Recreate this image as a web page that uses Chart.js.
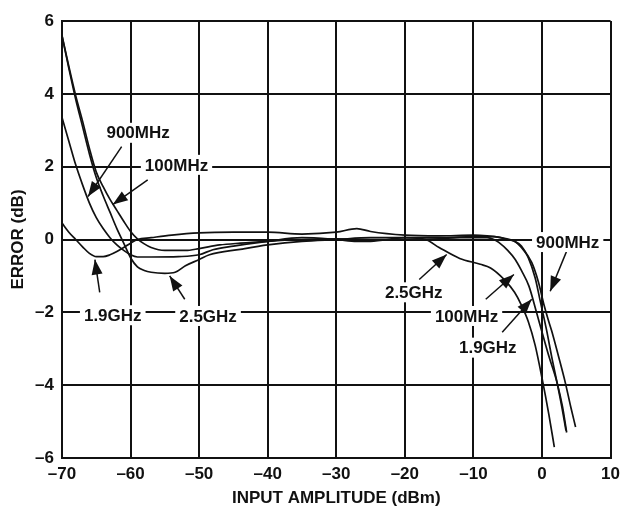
<!DOCTYPE html>
<html>
<head>
<meta charset="utf-8">
<script src="https://cdn.jsdelivr.net/npm/chart.js@4.4.0/dist/chart.umd.min.js"></script>
<style>
  html, body { margin: 0; padding: 0; background: #fff; }
  #wrap { width: 626px; height: 509px; }
</style>
</head>
<body>
<div id="wrap"><canvas id="errorChart"></canvas></div>
<script>
// axis ranges
const xMin = -70, xMax = 10, xStep = 10;
const yMin = -6, yMax = 6, yStep = 2;

// 100MHz
const x100MHz = [-70, -69, -68, -67, -66, -65, -64, -63, -62, -61, -60, -59, -58, -57, -55, -52, -50, -47, -44, -40, -35, -30, -25, -20, -15, -12, -10, -8, -7, -6.3, -5, -3.9, -3, -1.9, -0.8, -0.1, 1.0, 2.2, 3.0, 3.6];
const y100MHz = [5.6, 4.75, 3.95, 3.25, 2.5, 1.85, 1.45, 1.1, 0.8, 0.5, 0.22, 0.02, -0.12, -0.22, -0.3, -0.3, -0.25, -0.15, -0.1, -0.05, 0.0, 0.02, 0.0, 0.0, 0.02, 0.05, 0.05, 0.05, 0.0, -0.08, -0.3, -0.55, -0.85, -1.28, -2.0, -2.47, -3.2, -3.93, -4.6, -5.3];

// 900MHz
const x900MHz = [-70, -69, -68, -67, -66, -65, -64, -63, -62, -61, -60, -59, -57, -53, -50, -48, -45, -40, -35, -30, -27, -25, -20, -15, -10, -7, -5, -4, -3, -1.5, -0.5, 0.3, 0.9, 1.4, 2.4, 3.4, 4.2, 4.9];
const y900MHz = [3.35, 2.7, 2.05, 1.5, 1.0, 0.6, 0.3, 0.05, -0.15, -0.3, -0.42, -0.48, -0.48, -0.47, -0.42, -0.28, -0.18, -0.05, 0.05, 0.0, -0.05, -0.05, 0.05, 0.05, 0.08, 0.08, 0.0, -0.05, -0.22, -0.63, -1.18, -1.8, -2.2, -2.5, -3.2, -3.93, -4.6, -5.15];

// 1.9GHz
const x19GHz = [-70, -69, -68, -67, -66, -65, -64, -63, -62, -61, -60, -59, -57, -54, -50, -45, -40, -35, -30, -27, -25, -20, -15, -10, -8, -6, -4, -3, -2, -1, -0.3, 0.65, 1.5, 2.2, 2.9, 3.5];
const y19GHz = [0.45, 0.2, 0.0, -0.2, -0.38, -0.47, -0.47, -0.42, -0.33, -0.22, -0.1, 0.0, 0.05, 0.12, 0.18, 0.2, 0.2, 0.15, 0.2, 0.3, 0.22, 0.12, 0.1, 0.12, 0.1, 0.05, -0.05, -0.18, -0.5, -1.05, -1.65, -2.47, -3.3, -3.93, -4.6, -5.25];

// 2.5GHz
const x25GHz = [-70, -69, -68, -67, -66, -65, -64, -63, -62, -61, -60, -59, -58, -57, -55, -53.5, -52, -50, -48.5, -44, -40, -35, -30, -25, -20, -17, -15, -12, -9, -7.5, -5.5, -4, -3, -2, -1, 0, 1, 1.8];
const y25GHz = [5.6, 4.7, 3.85, 3.1, 2.35, 1.7, 1.2, 0.75, 0.3, -0.1, -0.5, -0.75, -0.85, -0.9, -0.93, -0.9, -0.72, -0.55, -0.42, -0.27, -0.15, -0.05, 0.0, 0.05, 0.05, 0.0, -0.22, -0.52, -0.68, -0.78, -1.1, -1.45, -1.8, -2.25, -2.9, -3.8, -4.8, -5.7];

// callout labels with arrows (data units)
const callouts = [
  { text: '900MHz', at: [-58.9, 2.93], from: [-61.3, 2.55], tip: [-66.2, 1.18] },
  { text: '100MHz', at: [-53.3, 2.05], from: [-57.5, 1.64], tip: [-62.6, 0.96] },
  { text: '1.9GHz', at: [-62.6, -2.08], from: [-64.5, -1.45], tip: [-65.2, -0.55] },
  { text: '2.5GHz', at: [-48.7, -2.1], from: [-52.1, -1.64], tip: [-54.3, -1.0] },
  { text: '2.5GHz', at: [-18.7, -1.45], from: [-17.9, -1.1], tip: [-13.9, -0.41] },
  { text: '100MHz', at: [-11.0, -2.1], from: [-8.2, -1.64], tip: [-4.1, -0.96] },
  { text: '1.9GHz', at: [-7.9, -2.97], from: [-5.8, -2.55], tip: [-1.5, -1.64] },
  { text: '900MHz', at: [3.75, -0.07], from: [3.6, -0.32], tip: [1.2, -1.42] }
];

function pts(xs, ys) {
  return xs.map((x, i) => ({ x: x, y: ys[i] }));
}

function series(label, xs, ys) {
  return {
    label: label,
    data: pts(xs, ys),
    borderColor: '#111',
    borderWidth: 1.7,
    pointRadius: 0,
    fill: false,
    cubicInterpolationMode: 'monotone'
  };
}

const calloutPlugin = {
  id: 'callouts',
  afterDraw(chart) {
    const ctx = chart.ctx;
    const xs = chart.scales.x, ys = chart.scales.y;
    ctx.save();
    ctx.strokeStyle = '#111';
    ctx.fillStyle = '#111';
    ctx.lineWidth = 1.5;
    callouts.forEach(c => {
      const fx = xs.getPixelForValue(c.from[0]), fy = ys.getPixelForValue(c.from[1]);
      const tx = xs.getPixelForValue(c.tip[0]), ty = ys.getPixelForValue(c.tip[1]);
      ctx.beginPath();
      ctx.moveTo(fx, fy);
      ctx.lineTo(tx, ty);
      ctx.stroke();
      // filled arrowhead
      const ang = Math.atan2(ty - fy, tx - fx);
      const len = 15, half = 5.5;
      const bx = tx - len * Math.cos(ang), by = ty - len * Math.sin(ang);
      ctx.beginPath();
      ctx.moveTo(tx, ty);
      ctx.lineTo(bx + half * Math.sin(ang), by - half * Math.cos(ang));
      ctx.lineTo(bx - half * Math.sin(ang), by + half * Math.cos(ang));
      ctx.closePath();
      ctx.fill();
    });
    ctx.font = 'bold 17px "Liberation Sans", Arial, sans-serif';
    ctx.textAlign = 'center';
    ctx.textBaseline = 'middle';
    callouts.forEach(c => {
      const px = xs.getPixelForValue(c.at[0]), py = ys.getPixelForValue(c.at[1]);
      const w = ctx.measureText(c.text).width;
      ctx.fillStyle = '#fff';
      ctx.fillRect(px - w / 2 - 4, py - 10, w + 8, 20);
      ctx.fillStyle = '#111';
      ctx.fillText(c.text, px, py + 1);
    });
    ctx.restore();
  }
};

Chart.defaults.font.family = '"Liberation Sans", Arial, sans-serif';
Chart.defaults.font.size = 17;
Chart.defaults.font.weight = 'bold';
Chart.defaults.color = '#111';

const ctx = document.getElementById('errorChart').getContext('2d');
const chart = new Chart(ctx, {
  type: 'line',
  data: {
    datasets: [
      series('100MHz', x100MHz, y100MHz),
      series('900MHz', x900MHz, y900MHz),
      series('1.9GHz', x19GHz, y19GHz),
      series('2.5GHz', x25GHz, y25GHz)
    ]
  },
  options: {
    responsive: true,
    maintainAspectRatio: false,
    animation: false,
    layout: { padding: { top: 21, right: 14, left: 0, bottom: 0 } },
    plugins: {
      legend: { display: false },
      tooltip: { enabled: false }
    },
    scales: {
      x: {
        type: 'linear',
        min: xMin,
        max: xMax,
        afterFit(scale) { scale.height = 51; },
        ticks: {
          stepSize: xStep,
          padding: 6,
          callback: v => String(v).replace('-', '\u2013')
        },
        grid: { color: '#111', lineWidth: 2, drawTicks: false },
        border: { display: true, color: '#111', width: 2 },
        title: {
          display: true,
          text: 'INPUT AMPLITUDE (dBm)',
          padding: { top: 0, bottom: 0 }
        }
      },
      y: {
        min: yMin,
        max: yMax,
        afterFit(scale) { scale.width = 62; },
        ticks: {
          stepSize: yStep,
          padding: 8,
          callback: v => String(v).replace('-', '\u2013')
        },
        grid: { color: '#111', lineWidth: 2, drawTicks: false },
        border: { display: true, color: '#111', width: 2 },
        title: {
          display: true,
          text: 'ERROR (dB)',
          padding: { top: 8, bottom: 0 }
        }
      }
    }
  },
  plugins: [calloutPlugin]
});
</script>
</body>
</html>
